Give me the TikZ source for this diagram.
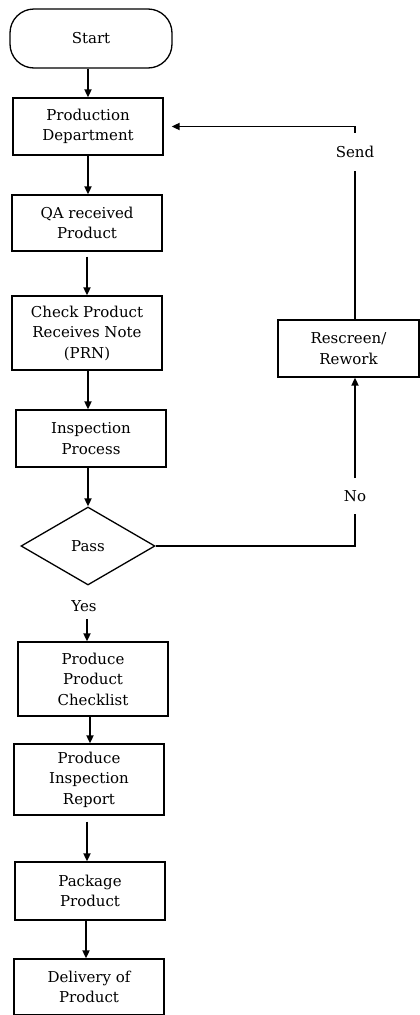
\documentclass[tikz,border=0pt]{standalone}
\usepackage{fontspec}
\setmainfont{DejaVu Serif}
\usetikzlibrary{shapes.geometric,arrows.meta}
\begin{document}
\begin{tikzpicture}[x=1pt,y=-1pt,
  txt/.style={font=\fontsize{15}{20.5}\selectfont, align=center},
  box/.style={txt, draw, line width=1.3pt, minimum width=150pt, inner sep=0pt},
  term/.style={txt, draw, line width=1.3pt, minimum width=162pt, minimum height=59pt, rounded corners=24pt, inner sep=0pt},
  dec/.style={txt, draw, diamond, line width=1.3pt, minimum width=134pt, minimum height=78pt, aspect=1.7, inner sep=0pt},
  lbl/.style={txt, inner xsep=2pt},
  line/.style={line width=1.8pt},
  conn/.style={line width=1.8pt, -{Triangle[length=8pt,width=7pt]}}]
\useasboundingbox (0,0) rectangle (420,1015);

\node[term] (start) at (91,38.5) {Start};
\node[box, minimum height=57pt] (pd) at (88,126.5) {Production\\Department};
\node[box, minimum height=56pt] (qa) at (87,223) {QA received\\Product};
\node[box, minimum height=74pt] (chk) at (87,333) {Check Product\\Receives Note\\(PRN)};
\node[box, minimum height=57pt] (insp) at (91,438.5) {Inspection\\Process};
\node[dec] (pass) at (88,546) {Pass};
\node[lbl] (yes) at (84,606) {Yes};
\node[box, minimum height=74pt] (ppc) at (93,679) {Produce\\Product\\Checklist};
\node[box, minimum height=71pt] (pir) at (89,779.5) {Produce\\Inspection\\Report};
\node[box, minimum height=58pt] (pkg) at (90,891) {Package\\Product};
\node[box, minimum height=56pt] (del) at (89,987) {Delivery of\\Product};
\node[box, minimum width=141pt, minimum height=57pt] (rr) at (348.5,348.5) {Rescreen/\\Rework};
\node[lbl, inner ysep=13pt] (send) at (355,152) {Send};
\node[lbl, inner ysep=12pt] (no) at (355,496) {No};

\draw[conn] (start.south -| 88,0) -- (pd.north -| 88,0);
\draw[conn] (pd.south -| 88,0) -- (qa.north -| 88,0);
\draw[conn, shorten <=5pt] (qa.south) -- (qa.south |- chk.north);
\draw[conn] (chk.south -| 88,0) -- (insp.north -| 88,0);
\draw[conn] (insp.south -| 88,0) -- (pass.north);
\draw[conn, shorten <=4pt] (yes.south -| 87,0) -- (ppc.north -| 87,0);
\draw[conn] (ppc.south -| 90,0) -- (pir.north -| 90,0);
\draw[conn, shorten <=6pt] (pir.south -| 87,0) -- (pkg.north -| 87,0);
\draw[conn] (pkg.south -| 86,0) -- (del.north -| 86,0);
\draw[line] (pass.east) -| (no.south);
\draw[conn] (no.north) -- (no.north |- rr.south);
\draw[line] (send.south |- rr.north) -- (send.south);
\draw[conn, shorten >=8pt] (send.north) |- (pd.east);
\end{tikzpicture}
\end{document}
